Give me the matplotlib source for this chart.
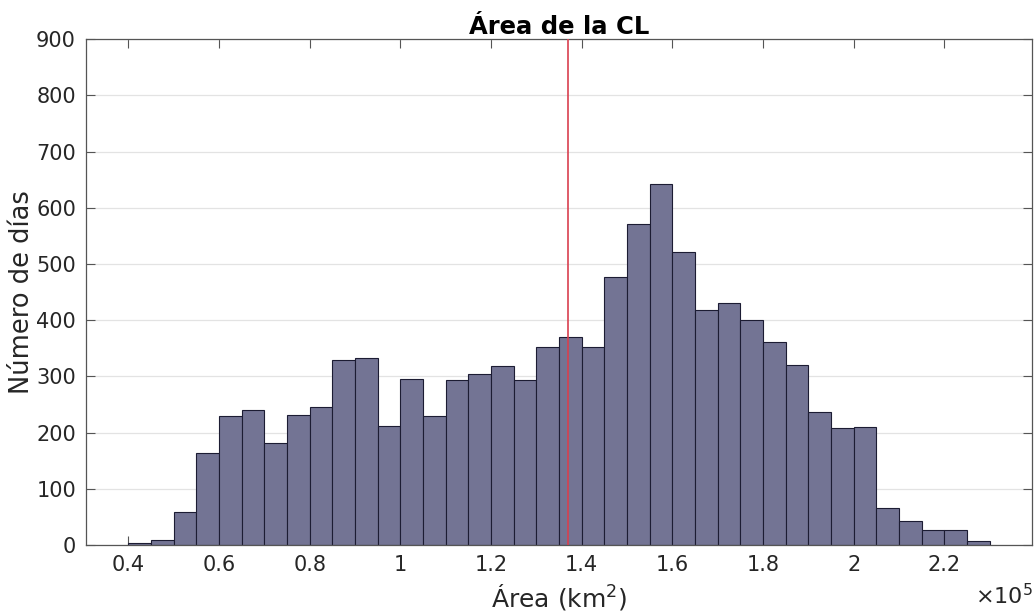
import numpy as np
import matplotlib
matplotlib.use('Agg')
import matplotlib.pyplot as plt
from matplotlib.ticker import FuncFormatter, MultipleLocator

# histogram of CL area (km2), bins of 5000 km2
bin_start = 40000
bin_width = 5000
counts = [3, 9, 59, 164, 229, 240, 181, 232, 245, 329, 333, 212, 295, 229, 294,
          305, 319, 294, 353, 370, 353, 477, 571, 643, 521, 419, 430, 400, 362,
          321, 236, 208, 210, 65, 43, 26, 26, 7]
mean_area = 137000

edges = bin_start + bin_width * np.arange(len(counts) + 1)

plt.rcParams['font.family'] = 'DejaVu Sans'
fig = plt.figure(figsize=(10.35, 6.13), dpi=100)
ax = fig.add_axes([0.0828, 0.111, 0.9146, 0.825])

ax.hist(edges[:-1], bins=edges, weights=counts, color='#737494',
        edgecolor='#1c1c33', linewidth=0.8, zorder=2)
ax.axvline(mean_area, color='#d9404f', linewidth=1.2, zorder=3)

ax.set_xlim(30600, 239400)
ax.set_ylim(0, 900)
ax.yaxis.set_major_locator(MultipleLocator(100))
ax.set_xticks(np.arange(40000, 230001, 20000))
ax.xaxis.set_major_formatter(FuncFormatter(lambda v, p: '%g' % round(v / 1e5, 2)))

ax.grid(axis='y', color='#e3e3e3', linewidth=0.9, zorder=0)
ax.set_axisbelow(True)
ax.tick_params(direction='in', top=True, right=True, length=6.5, width=0.8,
               color='#555555', labelsize=15, labelcolor='#262626', pad=7)
for s in ax.spines.values():
    s.set_color('#555555')
    s.set_linewidth(0.9)

ax.set_title('Área de la CL', fontsize=17.5, fontweight='bold', pad=4)
ax.set_xlabel('Área (km$^2$)', fontsize=18, color='#262626', labelpad=5)
ax.set_ylabel('Número de días', fontsize=18.5, color='#262626', labelpad=1)
ax.text(1.0, -0.1, r'$\times10^5$', transform=ax.transAxes, ha='right',
        va='center', fontsize=16, color='#262626')

fig.savefig('out.png', dpi=100)
